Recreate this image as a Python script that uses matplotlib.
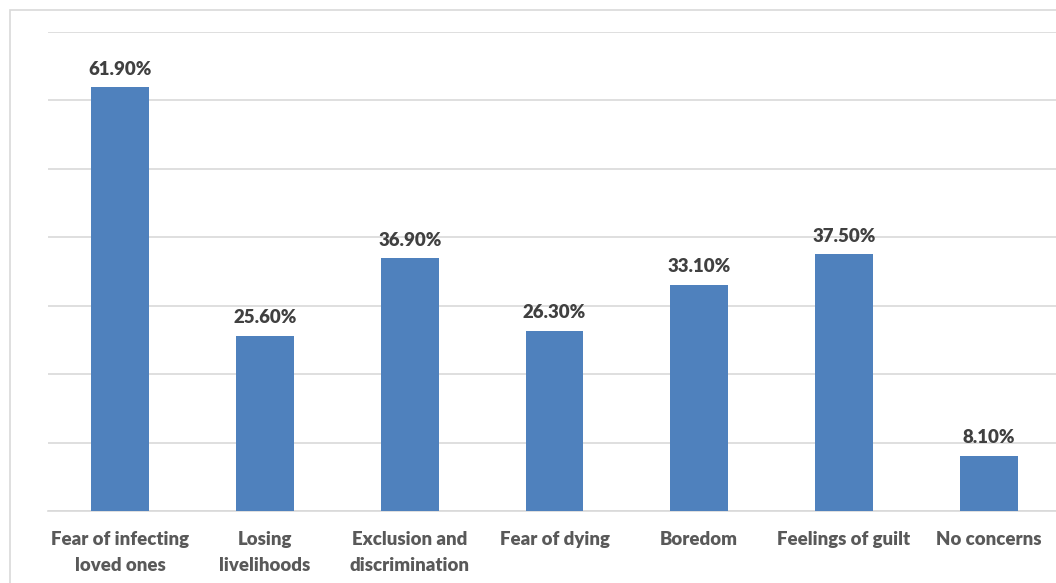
import matplotlib
matplotlib.use("Agg")
import matplotlib.pyplot as plt
from matplotlib.patches import Rectangle

categories = ["Fear of infecting\nloved ones", "Losing\nlivelihoods", "Exclusion and\ndiscrimination",
              "Fear of dying", "Boredom", "Feelings of guilt", "No concerns"]
values = [61.9, 25.6, 36.9, 26.3, 33.1, 37.5, 8.1]
labels = ["61.90%", "25.60%", "36.90%", "26.30%", "33.10%", "37.50%", "8.10%"]

plt.rcParams['font.family'] = ['Lato', 'DejaVu Sans']

W, H = 1056, 583
fig = plt.figure(figsize=(W/100, H/100), dpi=100)
fig.patches.append(Rectangle((10/W, -0.1), 1.2, (H-10)/H + 0.1, transform=fig.transFigure,
                             fill=False, edgecolor="#d9d9d9", linewidth=1.2))

ax = fig.add_axes([48/W, 72/H, 1013/W, 479/H])
x = list(range(len(values)))
ax.bar(x, values, width=0.4, color="#4f81bd", zorder=3)
ax.set_xlim(-0.5, len(values) - 0.5)
ax.set_ylim(0, 70)
ax.set_yticks(range(0, 71, 10))
ax.set_yticklabels([])
ax.tick_params(axis='y', length=0)
ax.grid(axis='y', color="#d9d9d9", linewidth=1.2, zorder=0)
for s in ["top", "right", "left"]:
    ax.spines[s].set_visible(False)
ax.spines["bottom"].set_color("#d9d9d9")
ax.spines["bottom"].set_linewidth(1.2)
ax.set_xticks(x)
ax.set_xticklabels(categories, fontsize=13.4, fontweight="heavy", color="#595959", linespacing=1.6)
ax.tick_params(axis='x', length=0, pad=14.5)
for xi, v, lab in zip(x, values, labels):
    ax.annotate(lab, (xi, v), xytext=(0, 7), textcoords="offset points", ha="center", va="bottom",
                fontsize=13.4, fontweight="heavy", color="#404040")
ax.patch.set_alpha(0)
fig.savefig("out.png", dpi=100)
